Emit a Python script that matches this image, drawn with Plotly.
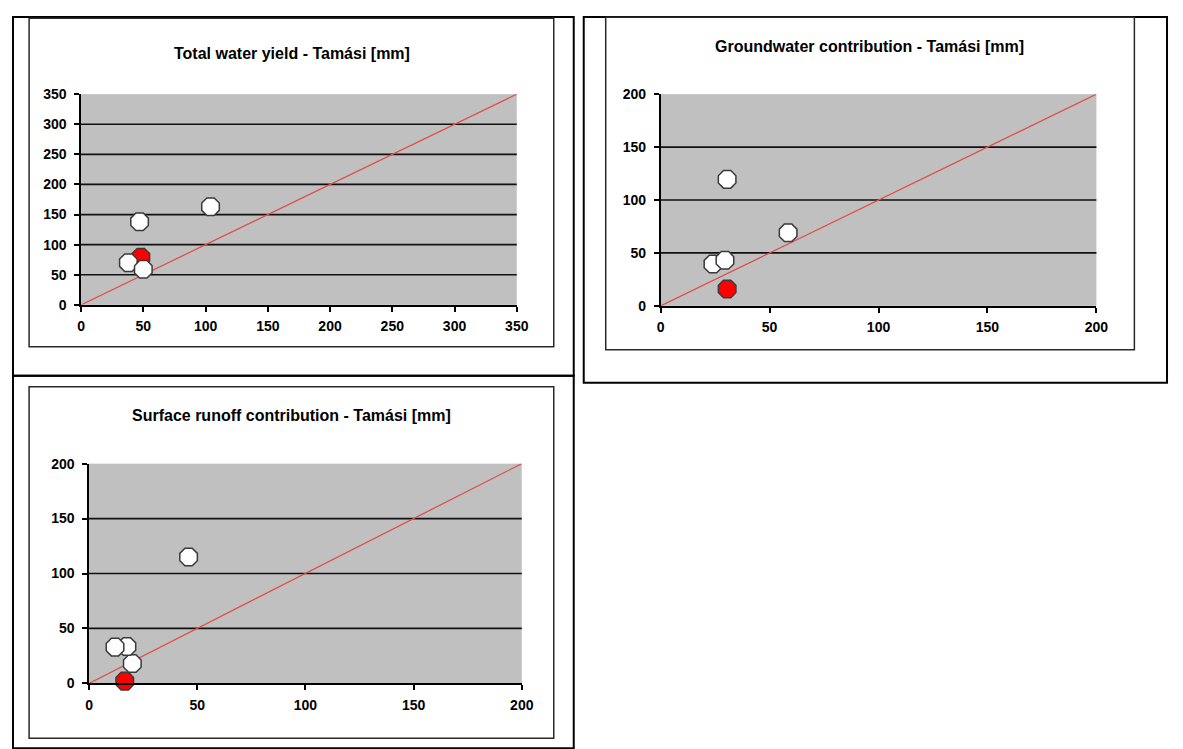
import plotly.graph_objects as go

# ---- data ----
titles = [
    "Total water yield - Tamási [mm]",
    "Groundwater contribution - Tamási [mm]",
    "Surface runoff contribution - Tamási [mm]",
]

total_x_white = [47, 104, 38, 50]
total_y_white = [138, 163, 70, 59]
total_x_red = [48]
total_y_red = [79]
total_ticks = [0, 50, 100, 150, 200, 250, 300, 350]

gw_x_white = [30.5, 58.5, 24, 29.5]
gw_y_white = [119.5, 69, 39.5, 43]
gw_x_red = [30.5]
gw_y_red = [16]
gw_ticks = [0, 50, 100, 150, 200]

sr_x_white = [46, 20, 17.5, 12]
sr_y_white = [115, 18, 33.5, 33]
sr_x_red = [16.5]
sr_y_red = [2]
sr_ticks = [0, 50, 100, 150, 200]

# ---- figure geometry ----
BODY = 8            # default body margin of the html page
W, H = 1173, 750    # figure size in px
# calibration of page px -> photographed px (measured on earlier renders)
SX, OX = 0.987, 3.0
SY, OY = 0.980, 6.9


def fig_px_x(ref):
    v = (ref - OX) / SX - BODY
    return min(max(v, 1), W - 2)


def fig_px_y(ref):
    v = (ref - OY) / SY - BODY
    return min(max(v, 1), H - 1)


def fx(ref):
    return fig_px_x(ref) / W


def fy(ref):
    return 1 - fig_px_y(ref) / H


# layout boxes given in target-picture pixels
panels = [
    dict(title=titles[0], xw=total_x_white, yw=total_y_white, xr=total_x_red, yr=total_y_red,
         ticks=total_ticks, dx=(80, 516), dy=(93, 304), outer=(7, 6, 573, 375),
         inner=(28, 17, 553, 346), txy=(291, 52)),
    dict(title=titles[1], xw=gw_x_white, yw=gw_y_white, xr=gw_x_red, yr=gw_y_red,
         ticks=gw_ticks, dx=(660, 1096), dy=(93, 305), outer=(583, 5, 1181, 382),
         inner=(605, 16, 1134, 349), txy=(869, 45)),
    dict(title=titles[2], xw=sr_x_white, yw=sr_y_white, xr=sr_x_red, yr=sr_y_red,
         ticks=sr_ticks, dx=(88, 521), dy=(463, 683), outer=(7, 375, 573, 748),
         inner=(28, 386, 553, 738), txy=(291, 415)),
]

FONT = "Liberation Sans, Arial, sans-serif"
fig = go.Figure()
shapes = []
annotations = []
layout = {}

for i, p in enumerate(panels, start=1):
    sx = "" if i == 1 else str(i)
    xref, yref = "x" + sx, "y" + sx
    t = p["ticks"]
    # 1:1 line
    fig.add_trace(go.Scatter(
        x=[t[0], t[-1]], y=[t[0], t[-1]], mode="lines",
        line=dict(color="#e0504a", width=1.3), xaxis=xref, yaxis=yref,
        showlegend=False, hoverinfo="skip", cliponaxis=False))
    fig.add_trace(go.Scatter(
        x=p["xr"], y=p["yr"], mode="markers",
        marker=dict(symbol="octagon", size=19, color="#ff0000",
                    line=dict(color="#3a3a3a", width=1.5)),
        xaxis=xref, yaxis=yref, showlegend=False, cliponaxis=False))
    fig.add_trace(go.Scatter(
        x=p["xw"], y=p["yw"], mode="markers",
        marker=dict(symbol="octagon", size=19, color="#ffffff",
                    line=dict(color="#3a3a3a", width=1.5)),
        xaxis=xref, yaxis=yref, showlegend=False, cliponaxis=False))

    axis_common = dict(
        range=[t[0], t[-1]], tickmode="array", tickvals=t,
        showline=True, linecolor="#000000", linewidth=1.5,
        ticks="outside", ticklen=5, tickwidth=1.5, tickcolor="#000000",
        showgrid=False, zeroline=False, fixedrange=True,
        tickfont=dict(family=FONT, size=14, color="#000000", weight="bold"),
    )
    layout["xaxis" + sx] = dict(axis_common, domain=[fx(p["dx"][0]), fx(p["dx"][1])],
                                anchor=yref, ticklabelstandoff=3)
    layout["yaxis" + sx] = dict(axis_common, domain=[fy(p["dy"][1]), fy(p["dy"][0])],
                                anchor=xref, ticklabelstandoff=5)

    # horizontal gridlines at interior tick values
    for v in t[1:-1]:
        shapes.append(dict(type="line", xref=xref + " domain", yref=yref,
                           x0=0, x1=1, y0=v, y1=v, layer="below",
                           line=dict(color="#111111", width=1.7)))

    # frames
    ox0, oy0, ox1, oy1 = p["outer"]
    shapes.append(dict(type="rect", xref="paper", yref="paper",
                       x0=fx(ox0), x1=fx(ox1), y0=fy(oy1), y1=fy(oy0),
                       line=dict(color="#000000", width=2), fillcolor="rgba(0,0,0,0)"))
    ix0, iy0, ix1, iy1 = p["inner"]
    shapes.append(dict(type="rect", xref="paper", yref="paper",
                       x0=fx(ix0), x1=fx(ix1), y0=fy(iy1), y1=fy(iy0),
                       line=dict(color="#2a2a2a", width=1.5), fillcolor="rgba(0,0,0,0)"))

    annotations.append(dict(
        text=p["title"], xref="paper", yref="paper",
        x=fx(p["txy"][0]), y=fy(p["txy"][1]), xanchor="center", yanchor="middle",
        showarrow=False,
        font=dict(family=FONT, size=16, color="#000000", weight="bold")))

fig.update_layout(
    width=W, height=H, margin=dict(l=0, r=0, t=0, b=0),
    paper_bgcolor="#ffffff", plot_bgcolor="#c0c0c0",
    shapes=shapes, annotations=annotations, showlegend=False,
    **layout,
)

fig.write_html("out.html")
